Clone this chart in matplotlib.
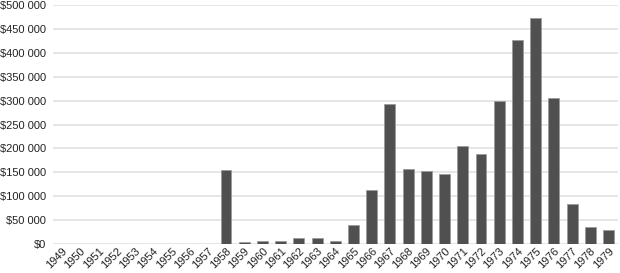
import matplotlib
matplotlib.use('Agg')
import matplotlib.pyplot as plt
from matplotlib.ticker import FuncFormatter

years = [str(y) for y in range(1949, 1980)]
values = [0, 0, 0, 0, 0, 0, 0, 0, 0,
          155000, 5000, 6000, 7000, 13000, 13000, 7000, 40000,
          114000, 292000, 156000, 152000, 146000, 204000, 189000,
          300000, 427000, 472000, 306000, 84000, 36000, 30000]
yticks = [0, 50000, 100000, 150000, 200000, 250000, 300000, 350000, 400000, 450000, 500000]

plt.rcParams['font.family'] = ['Liberation Sans', 'DejaVu Sans']

fig = plt.figure(figsize=(6.2, 2.73), dpi=100)
ax = fig.add_axes([53 / 620, 29 / 273, 564.6 / 620, 239 / 273])

x = list(range(len(years)))
ax.bar(x, values, width=0.6, color='#505050', edgecolor='#9a9a9a', linewidth=0.6, zorder=3)

ax.set_xlim(-0.5, len(years) - 0.5)
ax.set_ylim(0, 500000)
ax.set_yticks(yticks)
ax.yaxis.set_major_formatter(FuncFormatter(lambda v, p: '$' + format(int(v), ',').replace(',', ' ')))
ax.set_xticks(x)
ax.set_xticklabels(years, rotation=45, ha='right', rotation_mode='anchor')
ax.tick_params(axis='both', length=0, colors='#222222')
ax.tick_params(axis='y', pad=5, labelsize=8)
ax.tick_params(axis='x', pad=1.5, labelsize=8)
ax.grid(axis='y', color='#e2e2e2', linewidth=1.2, zorder=0)
for s in ax.spines.values():
    s.set_visible(False)

fig.savefig('out.png', dpi=100)
